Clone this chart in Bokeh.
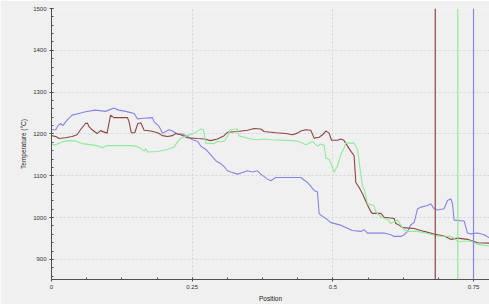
from bokeh.plotting import figure
from bokeh.models import Span, SingleIntervalTicker, NumeralTickFormatter, Range1d
from bokeh.embed import file_html
from bokeh.resources import INLINE

# ---- data (Position, Temperature °C) ----
blue_x = [0, 0.0076, 0.0117, 0.0160, 0.0201, 0.0277, 0.0366, 0.0485, 0.0604, 0.0782,
          0.0960, 0.1107, 0.1196, 0.1320, 0.1409, 0.1468, 0.1528, 0.1587, 0.1795, 0.1823,
          0.1912, 0.1973, 0.2031, 0.2090, 0.2150, 0.2239, 0.2328, 0.2417, 0.2506, 0.2600,
          0.2653, 0.2742, 0.2831, 0.2920, 0.3009, 0.3067, 0.3128, 0.3187, 0.3306, 0.3394,
          0.3483, 0.3572, 0.3661, 0.3720, 0.3839, 0.3897, 0.3986, 0.4431, 0.4489, 0.4550,
          0.4667, 0.4727, 0.4756, 0.4786, 0.4875, 0.4964, 0.5141, 0.5349, 0.5497, 0.5556,
          0.5616, 0.5911, 0.6030, 0.6089, 0.6208, 0.6266, 0.6327, 0.6386, 0.6444, 0.6505,
          0.6563, 0.6682, 0.6741, 0.6800, 0.6860, 0.6977, 0.7038, 0.7096, 0.7127, 0.7155,
          0.7333, 0.7393, 0.7452, 0.7571, 0.7688, 0.7789]
blue_t = [1210, 1210, 1220, 1225, 1220, 1233, 1245, 1249, 1253, 1257,
          1254, 1262, 1257, 1254, 1251, 1249, 1236, 1237, 1239, 1229,
          1218, 1202, 1206, 1210, 1207, 1200, 1200, 1194, 1186, 1182,
          1171, 1163, 1150, 1136, 1129, 1122, 1112, 1109, 1104, 1108,
          1112, 1109, 1112, 1104, 1092, 1088, 1096, 1096, 1090, 1084,
          1065, 1061, 1010, 1006, 998, 988, 982, 969, 967, 971,
          963, 963, 959, 955, 955, 959, 967, 983, 988, 1021,
          1025, 1029, 1033, 1021, 1018, 1021, 1041, 1045, 1033, 994,
          992, 963, 961, 963, 959, 951]

brown_x = [0, 0.0076, 0.0135, 0.0249, 0.0366, 0.0455, 0.0515, 0.0604, 0.0640, 0.0663,
           0.0722, 0.0810, 0.0871, 0.0929, 0.0988, 0.1049, 0.1107, 0.1351, 0.1379, 0.1418,
           0.1480, 0.1534, 0.1587, 0.1646, 0.1765, 0.1884, 0.1973, 0.2062, 0.2150, 0.2209,
           0.2298, 0.2417, 0.2595, 0.2712, 0.2831, 0.2950, 0.3067, 0.3128, 0.3306, 0.3483,
           0.3601, 0.3720, 0.3778, 0.3986, 0.4164, 0.4283, 0.4372, 0.4431, 0.4519, 0.4608,
           0.4667, 0.4756, 0.4816, 0.4875, 0.4934, 0.4976, 0.5083, 0.5141, 0.5195, 0.5261,
           0.5319, 0.5378, 0.5408, 0.5467, 0.5527, 0.5616, 0.5675, 0.5705, 0.5852, 0.5911,
           0.6089, 0.6119, 0.6178, 0.6238, 0.6444, 0.6622, 0.6800, 0.6977, 0.7096, 0.7216,
           0.7393, 0.7571, 0.7789]
brown_t = [1196, 1194, 1189, 1191, 1194, 1198, 1210, 1225, 1226, 1218,
           1210, 1201, 1208, 1205, 1202, 1245, 1239, 1239, 1229, 1203,
           1203, 1225, 1227, 1209, 1207, 1203, 1196, 1194, 1196, 1201,
           1198, 1191, 1189, 1188, 1184, 1188, 1196, 1204, 1206, 1209,
           1213, 1212, 1206, 1203, 1201, 1198, 1202, 1207, 1210, 1209,
           1190, 1192, 1198, 1207, 1202, 1185, 1185, 1188, 1185, 1171,
           1159, 1148, 1084, 1072, 1057, 1030, 1014, 1010, 1010, 1001,
           998, 986, 982, 976, 974, 967, 961, 956, 948, 951,
           948, 940, 939]

green_x = [0, 0.0071, 0.0188, 0.0307, 0.0427, 0.0544, 0.0722, 0.0841, 0.0899, 0.0988,
           0.1232, 0.1409, 0.1498, 0.1587, 0.1646, 0.1676, 0.1706, 0.1884, 0.2062, 0.2179,
           0.2239, 0.2298, 0.2417, 0.2534, 0.2609, 0.2653, 0.2701, 0.2742, 0.2890, 0.2950,
           0.3067, 0.3128, 0.3174, 0.3306, 0.3334, 0.3423, 0.3542, 0.3661, 0.3778, 0.3897,
           0.4283, 0.4400, 0.4519, 0.4578, 0.4638, 0.4667, 0.4727, 0.4786, 0.4845, 0.4875,
           0.4934, 0.4994, 0.5022, 0.5083, 0.5141, 0.5200, 0.5230, 0.5378, 0.5438, 0.5467,
           0.5497, 0.5527, 0.5556, 0.5616, 0.5733, 0.5763, 0.5852, 0.5971, 0.6030, 0.6149,
           0.6208, 0.6266, 0.6327, 0.6505, 0.6682, 0.6860, 0.7096, 0.7155, 0.7216, 0.7452,
           0.7571, 0.7789]
green_t = [1175, 1174, 1181, 1184, 1183, 1177, 1174, 1171, 1167, 1172,
           1172, 1172, 1171, 1165, 1159, 1165, 1157, 1158, 1163, 1169,
           1181, 1190, 1196, 1202, 1208, 1212, 1210, 1178, 1177, 1182,
           1182, 1194, 1210, 1212, 1195, 1192, 1188, 1186, 1188, 1186,
           1184, 1182, 1174, 1178, 1182, 1178, 1171, 1176, 1173, 1143,
           1139, 1120, 1108, 1124, 1151, 1167, 1178, 1178, 1162, 1135,
           1104, 1076, 1068, 1033, 1029, 1014, 1002, 995, 986, 994,
           982, 971, 967, 967, 962, 956, 955, 951, 943, 944,
           936, 932]

marker_positions = [0.682, 0.722, 0.750]

BROWN = "#8e4444"
GREEN = "#90ea9c"
BLUE = "#8585e6"
marker_colors = [BROWN, GREEN, BLUE]

BG = "#f0f0f0"
FONT = "Liberation Sans"

p = figure(width=489, height=304, output_backend="svg", toolbar_location=None,
           x_range=Range1d(0, 0.7784), y_range=Range1d(852, 1500),
           min_border_left=51, min_border_right=0, min_border_top=8, min_border_bottom=20,
           background_fill_color=BG, border_fill_color=BG, outline_line_color=None)

p.line(blue_x, blue_t, line_color=BLUE, line_width=1.1)
p.line(brown_x, brown_t, line_color=BROWN, line_width=1.1)
p.line(green_x, green_t, line_color=GREEN, line_width=1.1)

for loc, col in zip(marker_positions, marker_colors):
    p.add_layout(Span(location=loc, dimension="height", line_color=col, line_width=1.2))

p.xaxis.ticker = SingleIntervalTicker(interval=0.25, num_minor_ticks=4)
p.yaxis.ticker = SingleIntervalTicker(interval=100, num_minor_ticks=5)
p.xaxis.formatter = NumeralTickFormatter(format="0.[00]")

p.xaxis.axis_label = "Position"
p.yaxis.axis_label = "Temperature (°C)"

for ax in (p.xaxis, p.yaxis):
    ax.axis_label_text_font = FONT
    ax.axis_label_text_font_size = "6.5px"
    ax.axis_label_text_font_style = "normal"
    ax.axis_label_text_color = "#222222"
    ax.major_label_text_font = FONT
    ax.major_label_text_font_size = "6px"
    ax.major_label_text_color = "#333333"
    ax.axis_line_color = "#505050"
    ax.major_tick_line_color = "#505050"
    ax.minor_tick_line_color = "#505050"
    ax.major_tick_in = 2
    ax.major_tick_out = 2
    ax.minor_tick_in = 2
    ax.minor_tick_out = 0
    ax.major_label_standoff = 3
    ax.axis_label_standoff = 3

p.grid.grid_line_color = "#d6d6d6"
p.grid.grid_line_dash = "2 2"

open("out.html", "w").write(file_html(p, INLINE))
